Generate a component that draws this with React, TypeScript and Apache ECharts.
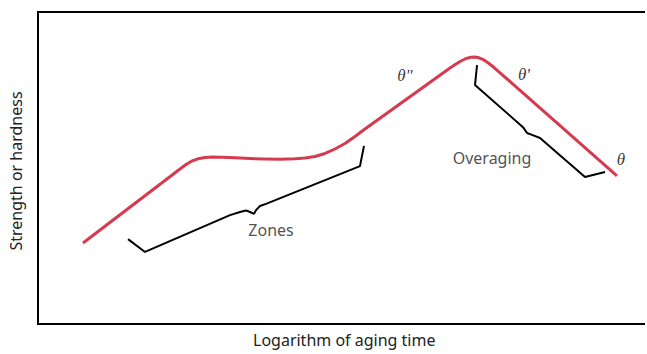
import React, { useEffect, useRef } from "react";
import * as echarts from "echarts";

// Coordinates in arbitrary units: x = log(aging time) 0–100, y = strength 0–100
const strengthCurve: [number, number][] = [
  [7.39, 25.96], [23.32, 49.68], [24.30, 51.12], [25.29, 52.24], [26.27, 52.95],
  [27.42, 53.37], [28.57, 53.53], [30.21, 53.46], [32.35, 53.27], [34.81, 53.04],
  [37.27, 52.88], [39.74, 52.82], [42.20, 52.95], [43.84, 53.21], [45.48, 53.69],
  [47.13, 54.65], [48.77, 56.09], [50.41, 57.85], [52.05, 60.10], [53.69, 62.50],
  [67.65, 82.05], [68.64, 83.33], [69.46, 84.29], [70.28, 85.10], [71.10, 85.51],
  [71.76, 85.58], [72.41, 85.32], [73.23, 84.62], [74.06, 83.49], [74.88, 82.21],
  [95.07, 47.44],
];

const zonesBracket: [number, number][] = [
  [14.78, 27.2], [17.57, 23.1], [31.53, 34.9], [33.17, 35.9], [34.15, 36.4], [34.81, 35.9],
  [35.47, 35.3], [35.80, 36.5], [36.45, 37.8], [37.44, 38.5], [52.87, 50.6], [53.53, 57.1],
];

const overagingBracket: [number, number][] = [
  [72.09, 83.0], [71.76, 76.6], [79.64, 63.1], [80.30, 61.2], [81.12, 60.6], [82.43, 59.6],
  [89.82, 47.1], [93.10, 48.7],
];

const annotationLabels = ["Zones", "Overaging", "θ\"", "θ'", "θ"];
const annotationX = [38.26, 74.55, 60.26, 79.80, 95.73];
const annotationY = [30.1, 53.2, 79.8, 80.1, 52.6];
const annotationItalic = [false, false, true, true, true];

const xAxisTitle = "Logarithm of aging time";
const yAxisTitle = "Strength or hardness";

export default function App() {
  const ref = useRef<HTMLDivElement>(null);
  useEffect(() => {
    document.body.style.margin = "0";
    if (!ref.current) return;
    const chart = echarts.init(ref.current, undefined, { renderer: "svg" });
    const annData = annotationLabels.map((t, i) => ({
      value: [annotationX[i], annotationY[i]],
      name: t,
      label: annotationItalic[i]
        ? { fontFamily: "Liberation Serif", fontStyle: "italic", fontSize: 17, color: "#000" }
        : { fontFamily: "Noto Sans", fontSize: 16, color: "#222" },
    }));
    chart.setOption({
      animation: false,
      backgroundColor: "#fff",
      grid: {
        left: 38, top: 12, right: 0, bottom: 30,
        show: true, borderColor: "#000", borderWidth: 2, backgroundColor: "transparent",
      },
      xAxis: {
        type: "value", min: 0, max: 100,
        axisLine: { show: false }, axisTick: { show: false }, axisLabel: { show: false },
        splitLine: { show: false },
      },
      yAxis: {
        type: "value", min: 0, max: 100,
        axisLine: { show: false }, axisTick: { show: false }, axisLabel: { show: false },
        splitLine: { show: false },
      },
      graphic: [
        {
          type: "text", left: 253, top: 332,
          style: { text: xAxisTitle, fontFamily: "Noto Sans", fontSize: 16, fill: "#222" },
        },
        {
          type: "text", x: 24, y: 171, rotation: Math.PI / 2,
          style: {
            text: yAxisTitle, fontFamily: "Noto Sans", fontSize: 16, fill: "#222",
            align: "center", verticalAlign: "bottom",
          },
        },
        {
          type: "rect", right: 0, top: 0,
          shape: { width: 2, height: 354 },
          style: { fill: "#fff" },
          z: 100,
        },
      ],
      series: [
        {
          type: "line", data: strengthCurve, showSymbol: false, symbol: "none",
          smooth: false,
          lineStyle: { color: "#d63a4e", width: 3, join: "round" },
        },
        {
          type: "line", data: zonesBracket, showSymbol: false, symbol: "none",
          lineStyle: { color: "#000", width: 2 },
        },
        {
          type: "line", data: overagingBracket, showSymbol: false, symbol: "none",
          lineStyle: { color: "#000", width: 2 },
        },
        {
          type: "scatter", data: annData, symbolSize: 0,
          label: { show: true, position: "inside", formatter: "{b}" },
        },
      ],
    });
    return () => chart.dispose();
  }, []);
  return <div ref={ref} style={{ width: 647, height: 354 }} />;
}
